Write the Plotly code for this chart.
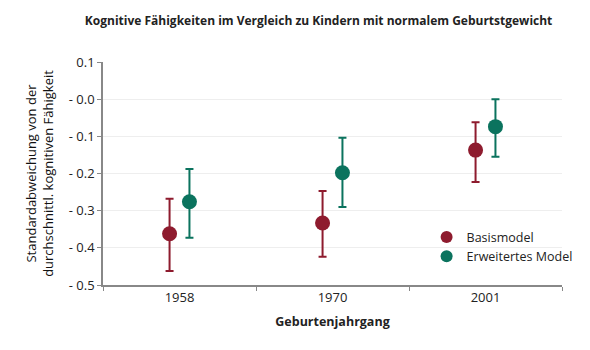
import plotly.graph_objects as go

years = ["1958", "1970", "2001"]
basis_vals = [-0.362, -0.333, -0.137]
basis_lo = [-0.462, -0.424, -0.223]
basis_hi = [-0.268, -0.247, -0.062]
erw_vals = [-0.276, -0.198, -0.074]
erw_lo = [-0.373, -0.290, -0.155]
erw_hi = [-0.188, -0.104, 0.000]
ytick_vals = [0.1, 0.0, -0.1, -0.2, -0.3, -0.4, -0.5]
ytick_text = ["0.1", "- 0.0", "- 0.1", "- 0.2", "- 0.3", "- 0.4", "- 0.5"]

RED = "#8e1b2e"
GREEN = "#0b735e"
FONT = "Segoe UI, Open Sans, sans-serif"

fig = go.Figure()

def add(name, vals, lo, hi, color):
    fig.add_trace(go.Scatter(
        x=years, y=vals, name=name, mode="markers",
        marker=dict(color=color, size=15),
        error_y=dict(type="data", symmetric=False,
                     array=[h - v for h, v in zip(hi, vals)],
                     arrayminus=[v - l for v, l in zip(vals, lo)],
                     color=color, thickness=2, width=4),
    ))

add("Basismodel", basis_vals, basis_lo, basis_hi, RED)
add("Erweitertes Model", erw_vals, erw_lo, erw_hi, GREEN)

fig.update_layout(
    width=590, height=350,
    margin=dict(l=103, r=28, t=62, b=65, autoexpand=False),
    paper_bgcolor="white", plot_bgcolor="white",
    font=dict(family=FONT, size=13, color="#222222"),
    scattermode="group", scattergap=0.74,
    title=dict(text="<b>Kognitive Fähigkeiten im Vergleich zu Kindern mit normalem Geburtstgewicht</b>",
               x=0.54, xanchor="center", y=0.94, yanchor="middle",
               font=dict(size=12, color="#222222")),
    showlegend=True,
    legend=dict(x=0.705, y=0.171, xanchor="left", yanchor="middle",
                bgcolor="rgba(0,0,0,0)", font=dict(size=12.5, color="#222222"),
                itemsizing="constant", tracegroupgap=0),
    xaxis=dict(type="category", range=[-0.5, 2.5], tickson="boundaries", ticks="outside", ticklen=4,
               tickcolor="#888888", showline=True, linecolor="#888888", linewidth=1.5,
               showgrid=False, tickfont=dict(size=13),
               title=dict(text="<b>Geburtenjahrgang</b>", font=dict(size=12.5), standoff=12)),
    yaxis=dict(range=[-0.5, 0.1], tickvals=ytick_vals, ticktext=ytick_text,
               ticks="outside", ticklen=4, tickcolor="#888888", tickfont=dict(size=13),
               showline=True, linecolor="#888888", linewidth=1.5,
               showgrid=True, gridcolor="#eeeeee", zeroline=False,
               title=dict(text="Standardabweichung von der<br>durchschnittl. kognitiven Fähigkeit",
                          font=dict(size=13, color="#111111"), standoff=12)),
)

fig.write_html("out.html")
